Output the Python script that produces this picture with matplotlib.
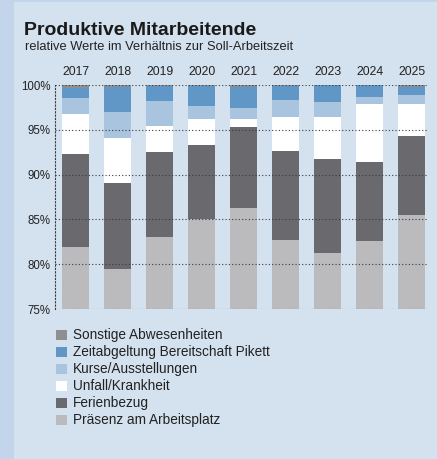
import matplotlib.pyplot as plt
from matplotlib.patches import Patch, Rectangle

plt.rcParams['font.family'] = ['Liberation Sans', 'DejaVu Sans']

# data (in % of Soll-Arbeitszeit)
years = ['2017', '2018', '2019', '2020', '2021', '2022', '2023', '2024', '2025']
praesenz = [81.9, 79.5, 83.0, 85.1, 86.3, 82.7, 81.3, 82.6, 85.5]
ferien = [10.4, 9.6, 9.5, 8.2, 9.0, 9.9, 10.4, 8.8, 8.8]
unfall = [4.5, 5.0, 2.9, 2.9, 0.9, 3.8, 4.7, 6.5, 3.6]
kurse = [1.8, 2.9, 2.8, 1.5, 1.2, 1.9, 1.7, 0.8, 1.0]
zeitabgeltung = [1.1, 2.8, 1.7, 2.2, 2.4, 1.6, 1.9, 1.3, 0.9]
sonstige = [0.3, 0.2, 0.1, 0.15, 0.2, 0.1, 0.15, 0.05, 0.3]

series = [
    ('Präsenz am Arbeitsplatz', praesenz, '#bbbbbe'),
    ('Ferienbezug', ferien, '#6a6a6e'),
    ('Unfall/Krankheit', unfall, '#ffffff'),
    ('Kurse/Ausstellungen', kurse, '#a9c4df'),
    ('Zeitabgeltung Bereitschaft Pikett', zeitabgeltung, '#6097c6'),
    ('Sonstige Abwesenheiten', sonstige, '#8f8f92'),
]

bg = '#d4e1ee'
fig = plt.figure(figsize=(4.37, 4.59), dpi=100, facecolor=bg)

# darker stripe on the left and top edge
fig.patches.append(Rectangle((0, 0), 14 / 437, 1, transform=fig.transFigure,
                             facecolor='#c2d5ea', edgecolor='none', zorder=0))
fig.patches.append(Rectangle((0, 1 - 2 / 459), 1, 2 / 459, transform=fig.transFigure,
                             facecolor='#c2d5ea', edgecolor='none', zorder=0))

ax = fig.add_axes([55 / 437, 150 / 459, 373 / 437, 224 / 459])
ax.set_facecolor(bg)

x = list(range(len(years)))
bottom = [0] * len(years)
for name, vals, col in series:
    ax.bar(x, vals, bottom=bottom, width=0.64, color=col, linewidth=0, zorder=2)
    bottom = [b + v for b, v in zip(bottom, vals)]

ax.set_ylim(75, 100)
ax.set_xlim(-0.49, 8.39)
ax.set_yticks([75, 80, 85, 90, 95, 100])
ax.set_yticklabels(['75%', '80%', '85%', '90%', '95%', '100%'])
for t in [75, 80, 85, 90, 95, 100]:
    ax.axhline(t, color='#3a3a3a', linestyle=(0, (1, 2)), linewidth=0.8, zorder=3)

ax.xaxis.tick_top()
ax.set_xticks(x)
ax.set_xticklabels(years)
ax.tick_params(axis='both', length=0, colors='#222222')
ax.tick_params(axis='x', pad=5, labelsize=8.8)
ax.tick_params(axis='y', pad=3, labelsize=8.3)

for s in ['top', 'right', 'bottom']:
    ax.spines[s].set_visible(False)
ax.spines['left'].set_linestyle((0, (1, 2)))
ax.spines['left'].set_color('#3a3a3a')
ax.spines['left'].set_linewidth(0.8)

fig.text(24 / 437, 1 - 35 / 459, 'Produktive Mitarbeitende', fontsize=14,
         fontweight='bold', color='#1a1a1a', va='baseline')
fig.text(25 / 437, 1 - 50 / 459, 'relative Werte im Verhältnis zur Soll-Arbeitszeit',
         fontsize=9.3, color='#222222', va='baseline')

handles = [Patch(facecolor=col, edgecolor='none', label=name) for name, vals, col in series[::-1]]
fig.legend(handles=handles, loc='upper left', bbox_to_anchor=(51 / 437, 1 - 323 / 459),
           frameon=False, fontsize=9.8, handlelength=0.75, handleheight=0.75,
           handletextpad=0.45, labelspacing=0.22, borderaxespad=0, labelcolor='#222222')

fig.savefig('out.png', dpi=100, facecolor=bg)
